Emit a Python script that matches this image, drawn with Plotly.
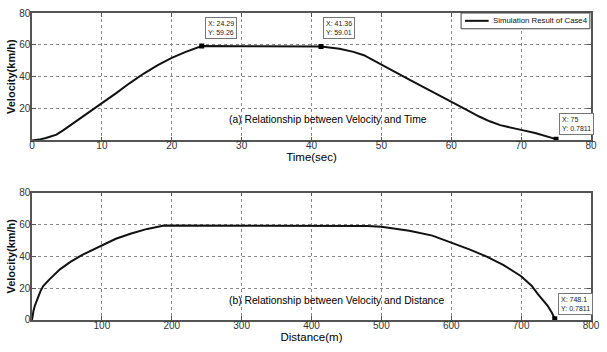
import plotly.graph_objects as go
from plotly.subplots import make_subplots

# (a) velocity vs time
time_s = [0, 1, 2, 3, 3.5, 4.5, 6, 8, 10, 12, 14, 16, 18, 20, 22, 24.29,
          30, 35, 41.36, 44, 46, 47.5, 50, 52, 54, 56, 58, 60, 62, 64, 65.5, 67, 68.5, 70, 72, 74, 75]
vel_t = [0, 0.5, 1.5, 2.8, 3.6, 6.5, 11, 17, 23, 29.5, 36, 42, 47.3, 51.8, 55.6, 59.26,
         59.2, 59.1, 59.01, 57.6, 55.6, 53.5, 47.4, 42.8, 38.2, 33.7, 29.1, 24.6, 19.7, 15.0, 12.0, 9.6, 7.9, 6.6, 4.6, 2.1, 0.78]

# (b) velocity vs distance
dist_m = [0, 1, 2, 4, 8, 12, 16, 25, 40, 55, 72, 100, 120, 142, 165, 189,
          300, 400, 480, 500, 540, 573, 600, 625, 650, 675, 700, 715, 724, 732, 738, 744, 748.1]
vel_d = [0, 3.5, 5.5, 8.9, 14, 18, 21.3, 25.5, 31.8, 36.5, 40.9, 47.1, 51, 54.3, 57.2, 59.4,
         59.3, 59.2, 59.0, 58.5, 56, 53, 48.8, 44.5, 40, 34.5, 27.5, 21.5, 16.2, 12, 8.9, 4.5, 0.78]

tips_t = [(24.29, 59.26, "X: 24.29<br>Y: 59.26", 3, 7),
          (41.36, 59.01, "X: 41.36<br>Y: 59.01", 2, 7),
          (75, 0.7811, "X: 75<br>Y: 0.7811", 3, 4)]
tips_d = [(748.1, 0.7811, "X: 748.1<br>Y: 0.7811", 3, 4)]

legend_label = "Simulation Result of Case4"

x1_ticks = [0, 10, 20, 30, 40, 50, 60, 70, 80]
x2_ticks = [0, 100, 200, 300, 400, 500, 600, 700, 800]
y_ticks = [0, 20, 40, 60, 80]

FONT = "Liberation Sans, Arial, sans-serif"

fig = make_subplots(rows=2, cols=1, vertical_spacing=0.17)

fig.add_trace(go.Scatter(x=time_s, y=vel_t, mode="lines", name=legend_label, showlegend=False,
                         line=dict(color="#111", width=2)), row=1, col=1)
fig.add_trace(go.Scatter(x=dist_m, y=vel_d, mode="lines", showlegend=False,
                         line=dict(color="#111", width=2)), row=2, col=1)

fig.add_trace(go.Scatter(x=[t[0] for t in tips_t], y=[t[1] for t in tips_t], mode="markers",
                         showlegend=False, marker=dict(symbol="square", size=5, color="black")),
              row=1, col=1)
fig.add_trace(go.Scatter(x=[t[0] for t in tips_d], y=[t[1] for t in tips_d], mode="markers",
                         showlegend=False, marker=dict(symbol="square", size=5, color="black")),
              row=2, col=1)

for (xx, yy, txt, xs, ys) in tips_t:
    fig.add_annotation(x=xx, y=yy, xref="x", yref="y", text=txt, showarrow=False,
                       xanchor="left", yanchor="bottom", xshift=xs, yshift=ys, align="left",
                       font=dict(size=7, color="#222", family=FONT),
                       bgcolor="white", bordercolor="#777", borderwidth=1, borderpad=2)
for (xx, yy, txt, xs, ys) in tips_d:
    fig.add_annotation(x=xx, y=yy, xref="x2", yref="y2", text=txt, showarrow=False,
                       xanchor="left", yanchor="bottom", xshift=xs, yshift=ys, align="left",
                       font=dict(size=7, color="#222", family=FONT),
                       bgcolor="white", bordercolor="#777", borderwidth=1, borderpad=2)

fig.add_annotation(x=27.9, y=13, xref="x", yref="y", text="(a) Relationship between Velocity and Time",
                   showarrow=False, xanchor="left", yanchor="middle",
                   font=dict(size=10.3, color="#000", family=FONT))
fig.add_annotation(x=279, y=12.4, xref="x2", yref="y2", text="(b) Relationship between Velocity and Distance",
                   showarrow=False, xanchor="left", yanchor="middle",
                   font=dict(size=10.3, color="#000", family=FONT))

# legend box (drawn in paper coordinates of the top panel)
fig.add_shape(type="rect", xref="paper", yref="paper", x0=0.7676, x1=0.998, y0=0.9486, y1=1.0,
              line=dict(color="#444", width=1), fillcolor="white", layer="above")
fig.add_shape(type="line", xref="paper", yref="paper", x0=0.7746, x1=0.8169, y0=0.9745, y1=0.9745,
              line=dict(color="#111", width=2), layer="above")
fig.add_annotation(x=0.8205, y=0.9745, xref="paper", yref="paper", text=legend_label,
                   showarrow=False, xanchor="left", yanchor="middle",
                   font=dict(size=7.8, color="#111", family=FONT))

axis_common = dict(showline=True, linecolor="#555", linewidth=1.5, mirror="allticks",
                   ticks="inside", ticklen=4, tickcolor="#555",
                   showgrid=True, gridcolor="#888", griddash="dot", gridwidth=1,
                   zeroline=False, tickfont=dict(size=10, color="#333", family=FONT))

fig.update_xaxes(axis_common, ticklabelstandoff=-5)
fig.update_yaxes(axis_common, ticklabelstandoff=-2)

fig.update_xaxes(range=[0, 80], tickvals=x1_ticks, ticktext=[str(v) for v in x1_ticks],
                 title=dict(text="Time(sec)", font=dict(size=11.5, color="#000", family=FONT), standoff=2),
                 row=1, col=1)
fig.update_xaxes(range=[0, 800], tickvals=x2_ticks, ticktext=[""] + [str(v) for v in x2_ticks[1:]],
                 title=dict(text="Distance(m)", font=dict(size=11.5, color="#000", family=FONT), standoff=2),
                 row=2, col=1)
fig.update_yaxes(range=[0, 80], tickvals=y_ticks, ticktext=[""] + [str(v) for v in y_ticks[1:]],
                 title=dict(text="<b>Velocity(km/h)</b>", font=dict(size=11, color="#111", family=FONT), standoff=1),
                 row=1, col=1)
fig.update_yaxes(range=[0, 80], tickvals=y_ticks, ticktext=[str(v) for v in y_ticks],
                 title=dict(text="<b>Velocity(km/h)</b>", font=dict(size=11, color="#111", family=FONT), standoff=1),
                 row=2, col=1)

fig.update_layout(
    width=607, height=352,
    margin=dict(l=32, r=7, t=9, b=32),
    paper_bgcolor="white", plot_bgcolor="white",
    font=dict(family=FONT, color="#111"),
    showlegend=False,
)
fig.layout.yaxis.domain = [0.585, 1.0]
fig.layout.yaxis2.domain = [0.0, 0.415]

fig.write_html("out.html")
